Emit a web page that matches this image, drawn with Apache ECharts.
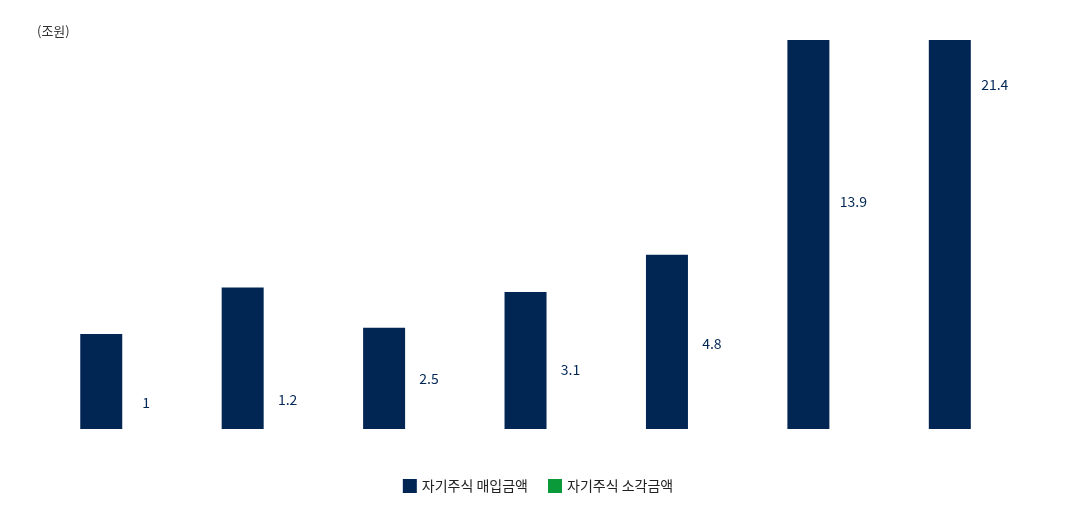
<!DOCTYPE html>
<html><head><meta charset="utf-8">
<script src="https://cdn.jsdelivr.net/npm/echarts@6/dist/echarts.min.js"></script>
<style>html,body{margin:0;padding:0;background:#fff}#c{width:1076px;height:524px}</style>
</head><body><div id="c"></div>
<script>
const categories = ['1','2','3','4','5','6','7'];
const buyback = [6.1, 9.1, 6.5, 8.8, 11.2, 28, 30];
const retire = [1, 1.2, 2.5, 3.1, 4.8, 13.9, 21.4];
const chart = echarts.init(document.getElementById('c'));
const font = '"Noto Sans CJK KR", "Noto Sans", sans-serif';
chart.setOption({
  animation: false,
  textStyle: { fontFamily: font },
  title: { text: '(조원)', left: 32, top: 20, textStyle: { fontSize: 13, fontWeight: 'normal', color: '#333', fontFamily: font } },
  legend: {
    bottom: 26, left: 'center', itemWidth: 14, itemHeight: 14, itemGap: 20,
    icon: 'rect',
    textStyle: { fontSize: 14, color: '#222', fontFamily: font },
    data: [{ name: '자기주식 매입금액', itemStyle: { color: '#022654' } },
           { name: '자기주식 소각금액', itemStyle: { color: '#0a9a3a' } }]
  },
  grid: { left: 53, right: 33, top: 40, bottom: 95 },
  xAxis: { type: 'category', data: categories, show: false },
  yAxis: { type: 'value', min: 0, max: 25, show: false },
  series: [
    { name: '자기주식 매입금액', type: 'bar', data: buyback, barWidth: 42, barGap: '7%', itemStyle: { color: '#022654' } },
    { name: '자기주식 소각금액', type: 'bar', data: retire, barWidth: 42, itemStyle: { color: 'rgba(0,0,0,0)' },
      label: { show: true, position: 'top', color: '#022654', fontSize: 14, fontFamily: font, distance: 4 } }
  ]
});
</script></body></html>
